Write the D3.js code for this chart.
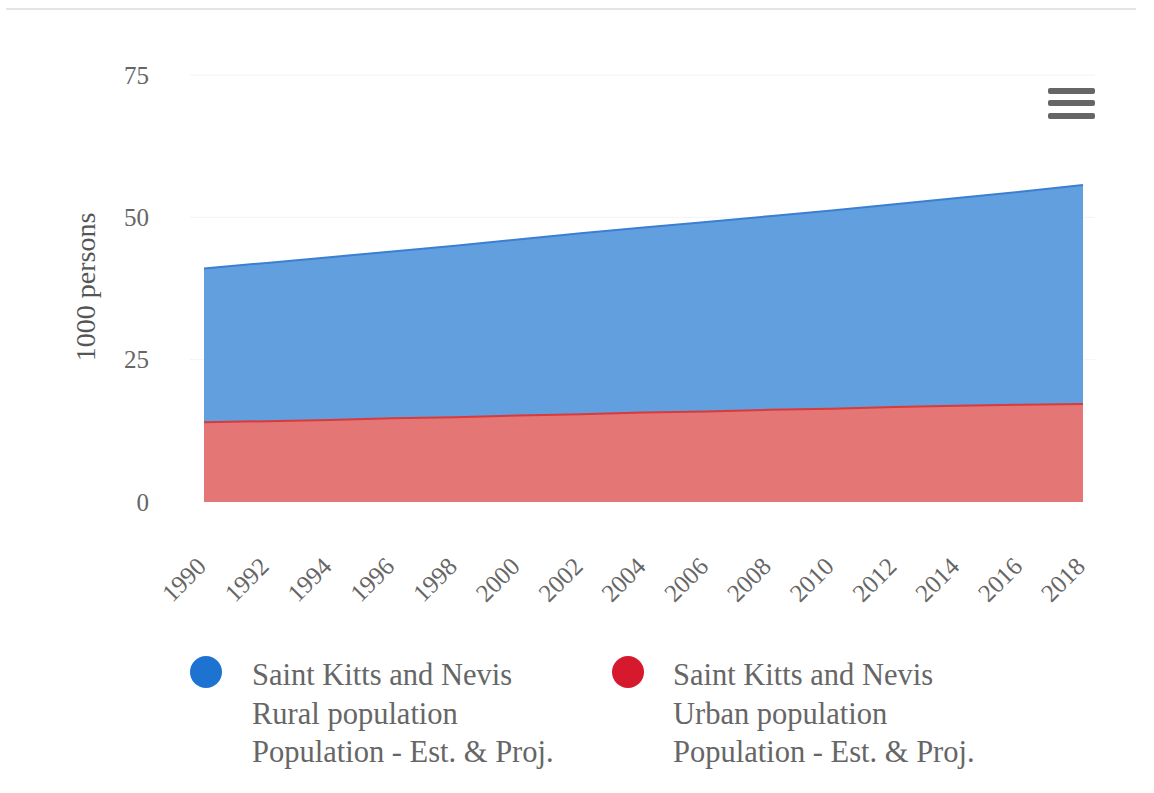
<!DOCTYPE html>
<html>
<head>
<meta charset="utf-8">
<script src="https://cdn.jsdelivr.net/npm/d3@7"></script>
<style>
  html, body { margin: 0; padding: 0; background: #ffffff; }
  svg { display: block; }
  text { font-family: "Liberation Serif", "Times New Roman", serif; }
</style>
</head>
<body>
<svg id="chart" width="1154" height="793"></svg>
<script>
// ---- data ----
const years = [1990, 1992, 1994, 1996, 1998, 2000, 2002, 2004, 2006, 2008, 2010, 2012, 2014, 2016, 2018];
const urbanPopulation = [14.0, 14.2, 14.4, 14.7, 14.9, 15.2, 15.4, 15.7, 15.9, 16.2, 16.4, 16.7, 16.9, 17.1, 17.2];
const ruralPopulation = [27.0, 27.8, 28.6, 29.3, 30.1, 30.9, 31.8, 32.5, 33.3, 34.0, 34.8, 35.6, 36.5, 37.4, 38.5];
const yTicks = [0, 25, 50, 75];
const xTickLabels = ["1990","1992","1994","1996","1998","2000","2002","2004","2006","2008","2010","2012","2014","2016","2018"];
const yAxisTitle = "1000 persons";
const legendItems = [
  ["Saint Kitts and Nevis", "Rural population", "Population - Est. & Proj."],
  ["Saint Kitts and Nevis", "Urban population", "Population - Est. & Proj."]
];

// ---- chart ----
const svg = d3.select("#chart");
const x = d3.scaleLinear().domain([1990, 2018]).range([204, 1083]);
const y = d3.scaleLinear().domain([0, 75]).range([502, 75]);

// top separator line
svg.append("line").attr("x1", 6).attr("x2", 1136).attr("y1", 9).attr("y2", 9)
  .attr("stroke", "#e4e4e4").attr("stroke-width", 2);

// gridlines
svg.append("g").selectAll("line").data(yTicks.filter(d => d > 0)).join("line")
  .attr("x1", 190).attr("x2", 1095)
  .attr("y1", d => y(d)).attr("y2", d => y(d))
  .attr("stroke", "#f3f3f3").attr("stroke-width", 1);

// stacked data
const rows = years.map((yr, i) => ({ year: yr, urban: urbanPopulation[i], rural: ruralPopulation[i] }));
const stack = d3.stack().keys(["urban", "rural"]);
const series = stack(rows);
const fills = { urban: "#e47676", rural: "#629fdf" };
const strokes = { urban: "#d93a3a", rural: "#3b7fd3" };

const area = d3.area()
  .x(d => x(d.data.year))
  .y0(d => y(d[0]))
  .y1(d => y(d[1]));
const line = d3.line()
  .x(d => x(d.data.year))
  .y(d => y(d[1]));

series.forEach(s => {
  svg.append("path").datum(s).attr("d", area).attr("fill", fills[s.key]);
});
series.forEach(s => {
  svg.append("path").datum(s).attr("d", line)
    .attr("fill", "none").attr("stroke", strokes[s.key]).attr("stroke-width", 2);
});

// y axis
const yAxis = svg.append("g").attr("transform", "translate(149,0)")
  .call(d3.axisLeft(y).tickValues(yTicks).tickSize(0).tickPadding(0));
yAxis.select(".domain").remove();
yAxis.selectAll("text")
  .attr("font-family", "'Liberation Serif', 'Times New Roman', serif")
  .attr("font-size", 25).attr("fill", "#666");

// y axis title
svg.append("text")
  .attr("transform", "translate(95,287) rotate(-90)")
  .attr("text-anchor", "middle")
  .attr("font-size", 28).attr("fill", "#555")
  .text(yAxisTitle);

// x axis
const xAxis = svg.append("g").attr("transform", "translate(0,522)")
  .call(d3.axisBottom(x).tickValues(years).tickFormat((d, i) => xTickLabels[i]).tickSize(0).tickPadding(0));
xAxis.select(".domain").remove();
xAxis.selectAll("text")
  .attr("font-family", "'Liberation Serif', 'Times New Roman', serif")
  .attr("font-size", 25).attr("fill", "#666")
  .attr("text-anchor", "end")
  .attr("dy", 0)
  .attr("y", 0)
  .attr("transform", "translate(3,46) rotate(-45)");

// legend
const legendColors = ["#1e73d2", "#d7192d"];
const legendX = [206, 628];
const textX = [252, 673];
legendItems.forEach((lines, i) => {
  const g = svg.append("g");
  g.append("circle").attr("cx", legendX[i]).attr("cy", 672).attr("r", 16).attr("fill", legendColors[i]);
  g.append("text").attr("font-size", 30.5).attr("fill", "#666")
    .selectAll("tspan").data(lines).join("tspan")
    .attr("x", textX[i]).attr("y", (d, j) => 685 + j * 38.5)
    .text(d => d);
});

// hamburger menu icon
svg.append("g").selectAll("rect").data([91, 103, 116]).join("rect")
  .attr("x", 1048).attr("y", d => d - 3).attr("width", 47).attr("height", 6).attr("rx", 2)
  .attr("fill", "#666");
</script>
</body>
</html>
